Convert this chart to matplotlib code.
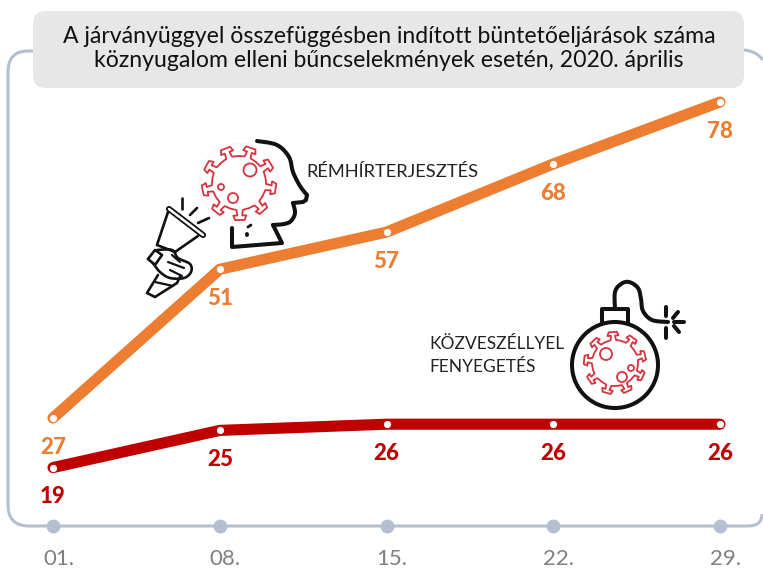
import numpy as np
import matplotlib
matplotlib.use("Agg")
import matplotlib.pyplot as plt
from matplotlib.patches import FancyBboxPatch, Circle, Polygon, PathPatch
from matplotlib.path import Path

W, H = 763, 568
days = ["01.", "08.", "15.", "22.", "29."]
remhir = [27, 51, 57, 68, 78]
kozveszely = [19, 25, 26, 26, 26]
title = "A járványüggyel összefüggésben indított büntetőeljárások száma\nköznyugalom elleni bűncselekmények esetén, 2020. április"
label_rem = "RÉMHÍRTERJESZTÉS"
label_koz = "KÖZVESZÉLLYEL\nFENYEGETÉS"

ORANGE = "#ED7D31"
RED = "#C00000"
FRAME = "#B4C0D2"
VIRUS = "#D8323C"
plt.rcParams["font.family"] = ["Lato", "DejaVu Sans"]

fig = plt.figure(figsize=(W / 100, H / 100), dpi=100)
ax = fig.add_axes([0, 0, 1, 1])
x0, dx = 53.0, 166.75
y27, dy = 418.0, 6.196
ax.set_xlim(-x0 / dx, (W - x0) / dx)
ax.set_ylim(27 - (H - y27) / dy, 27 + y27 / dy)
ax.axis("off")
xs = np.arange(len(days))

# overlay in pixel coordinates (y downward), used for decorations only
pix = fig.add_axes([0, 0, 1, 1], facecolor="none")
pix.set_xlim(0, W)
pix.set_ylim(H, 0)
pix.axis("off")

# frame
frame = [(40, 51), (28, 51), (8, 51), (8, 72), (8, 505), (8, 526), (29, 526),
         (748, 526), (762, 526), (762, 514)]
fc = [Path.MOVETO, Path.LINETO, Path.CURVE3, Path.CURVE3, Path.LINETO, Path.CURVE3, Path.CURVE3,
      Path.LINETO, Path.CURVE3, Path.CURVE3]
pix.add_patch(PathPatch(Path(frame, fc), fc="none", ec=FRAME, lw=2.2))
pix.add_patch(PathPatch(Path([(738, 50), (752, 49), (759, 55), (763, 60)],
                             [Path.MOVETO, Path.CURVE4, Path.CURVE4, Path.CURVE4]), fc="none", ec=FRAME, lw=2.2))

# title box
pix.add_patch(FancyBboxPatch((33, 11), 711, 77, boxstyle="round,pad=0,rounding_size=13", fc="#E7E7E7", ec="none", zorder=3))
pix.text(389, 48.5, title, ha="center", va="center", fontsize=16.6, color="#111111", linespacing=1.12, zorder=4)

# series
ax.plot(xs, remhir, color=ORANGE, lw=8, solid_capstyle="round", solid_joinstyle="miter", zorder=5)
ax.plot(xs, kozveszely, color=RED, lw=8, solid_capstyle="round", solid_joinstyle="miter", zorder=5)
for vals, col in ((remhir, ORANGE), (kozveszely, RED)):
    ax.plot(xs, vals, ls="none", marker="o", ms=5.2, mfc="white", mec="none", zorder=6)

# value labels
for x, v in zip(xs, remhir):
    ax.annotate(str(v), (x, v), xytext=(0, -21), textcoords="offset points",
                ha="center", va="center", color=ORANGE, fontsize=16, fontweight="black", zorder=7)
for x, v in zip(xs, kozveszely):
    ax.annotate(str(v), (x, v), xytext=(0, -21), textcoords="offset points",
                ha="center", va="center", color=RED, fontsize=16, fontweight="black", zorder=7)

# x axis dots and labels
base = 27 - (526 - y27) / dy
ax.plot(xs, [base] * len(xs), ls="none", marker="o", ms=10, color=FRAME, mec="none", zorder=4, clip_on=False)
for x, d in zip(xs, days):
    ax.annotate(d, (x, base), xytext=(4, -23.5), textcoords="offset points", ha="center", va="center",
                color="#7F7F7F", fontsize=16)

# annotations
pix.text(306, 172, label_rem, fontsize=13.2, color="#222222", ha="left", va="center", zorder=7)
pix.text(429, 355.5, label_koz, fontsize=12.5, color="#222222", ha="left", va="center", linespacing=1.53, zorder=7)


def smooth(pts, k=12):
    p = np.array(pts, float)
    q = np.vstack([p[0], p, p[-1]])
    out = []
    for i in range(1, len(q) - 2):
        for t in np.linspace(0, 1, k, endpoint=False):
            out.append(0.5 * ((2 * q[i]) + (-q[i - 1] + q[i + 1]) * t
                              + (2 * q[i - 1] - 5 * q[i] + 4 * q[i + 1] - q[i + 2]) * t ** 2
                              + (-q[i - 1] + 3 * q[i] - 3 * q[i + 1] + q[i + 2]) * t ** 3))
    out.append(p[-1])
    return np.array(out)


def stroke(pts, lw=2.2, close=False, color="#111111", z=7.5):
    p = np.array(pts, float)
    if close:
        p = np.vstack([p, p[:1]])
    pix.plot(p[:, 0], p[:, 1], color=color, lw=lw, solid_capstyle="round", solid_joinstyle="round", zorder=z)


def virus(cx, cy, r, R, rot=0.0, lw=1.3, n=9, circles=()):
    pts = []
    for k in range(n):
        a = rot + 2 * np.pi * k / n
        step = 2 * np.pi / n
        u = np.array([np.cos(a), np.sin(a)])
        v = np.array([-u[1], u[0]])
        c = np.array([cx, cy])
        hw, cap = 0.09 * r, 0.24 * r
        base_r, neck_r = r, r + 0.55 * (R - r)
        pts += [c + base_r * u - hw * 1.3 * v, c + neck_r * u - hw * v, c + neck_r * u - cap * v,
                c + R * u - cap * v * 0.75, c + R * u + cap * v * 0.75, c + neck_r * u + cap * v,
                c + neck_r * u + hw * v, c + base_r * u + hw * 1.3 * v]
        for f in (0.25, 0.5, 0.75):
            b = a + step * f
            pts.append(c + r * np.array([np.cos(b), np.sin(b)]))
    p = np.array(pts)
    pix.add_patch(Polygon(p, closed=True, fc="white", ec=VIRUS, lw=lw, joinstyle="round", zorder=8))
    for x, y, rr in circles:
        pix.add_patch(Circle((x, y), rr, fc="none", ec=VIRUS, lw=lw, zorder=8.2))


# head
hp = smooth([(257, 141), (277, 145), (289, 157), (293, 172), (300, 186), (307, 195)])
stroke(hp, lw=2.9)
stroke([(307, 195), (306, 200), (303, 202), (293, 203)], lw=2.9)
stroke(smooth([(293, 203), (295, 213), (291, 221), (284, 224), (273, 225)]), lw=2.9)
stroke([(273, 225), (282, 243), (232, 247), (232, 228)], lw=2.9)
stroke([(248, 227), (251, 225)], lw=2)
stroke([(247, 234), (247, 235)], lw=2.8)
pix.add_patch(Circle((239, 183), 40, fc="white", ec="#F4F4F4", lw=0.6, zorder=7.8))
virus(239, 183, 27, 37, rot=0.15, circles=((250, 170, 6.5), (233, 198, 5), (221, 187, 3)))

# megaphone
stroke([(169, 209), (203, 235)], lw=4.4)
stroke([(169, 209), (203, 235)], lw=1.8, color="white", z=7.6)
stroke([(168, 212), (157, 245)], lw=1.9)
stroke([(198, 236), (175, 252)], lw=1.9)
stroke([(157, 245), (175, 252)], lw=1.9)
stroke([(176, 216), (196, 231)], lw=1.5)
stroke([(182, 198), (182, 209)], lw=1.9)
stroke([(197, 208), (190, 215)], lw=1.9)
stroke([(209, 218), (198, 223)], lw=1.9)
# fist
stroke([(148, 259), (155, 250), (162, 255), (155, 265)], lw=1.9, close=True)
stroke(smooth([(157, 250), (172, 250), (178, 258), (190, 264), (191, 272), (184, 278), (170, 278), (160, 272), (153, 263)]), lw=1.9)
stroke([(168, 262), (184, 268)], lw=1.6)
stroke([(172, 255), (180, 262)], lw=1.6)
stroke([(170, 270), (182, 276)], lw=1.6)
# handle
stroke([(158, 275), (147, 293), (155, 297), (177, 283), (180, 277)], lw=1.9)
stroke([(155, 282), (173, 286)], lw=1.6)

# bomb
pix.add_patch(Circle((615, 365), 43, fc="white", ec="#111111", lw=2.9, zorder=7.5))
stroke([(602, 322), (602, 309), (628, 309), (628, 322)], lw=2.9)
stroke(smooth([(615, 309), (615, 292), (621, 284), (629, 282), (638, 288), (641, 299), (643, 311), (652, 320), (668, 322)]), lw=2.9)
for pts in (((666, 307), (666, 316)), ((678, 312), (673, 318)), ((674, 322), (684, 322)),
            ((674, 326), (679, 332)), ((666, 328), (666, 338))):
    stroke(pts, lw=2.9)
virus(615, 363, 23, 31, rot=0.45, circles=((606, 354, 6), (622, 377, 5), (631, 368, 3)))

fig.savefig("out.png", dpi=100, facecolor="white")
